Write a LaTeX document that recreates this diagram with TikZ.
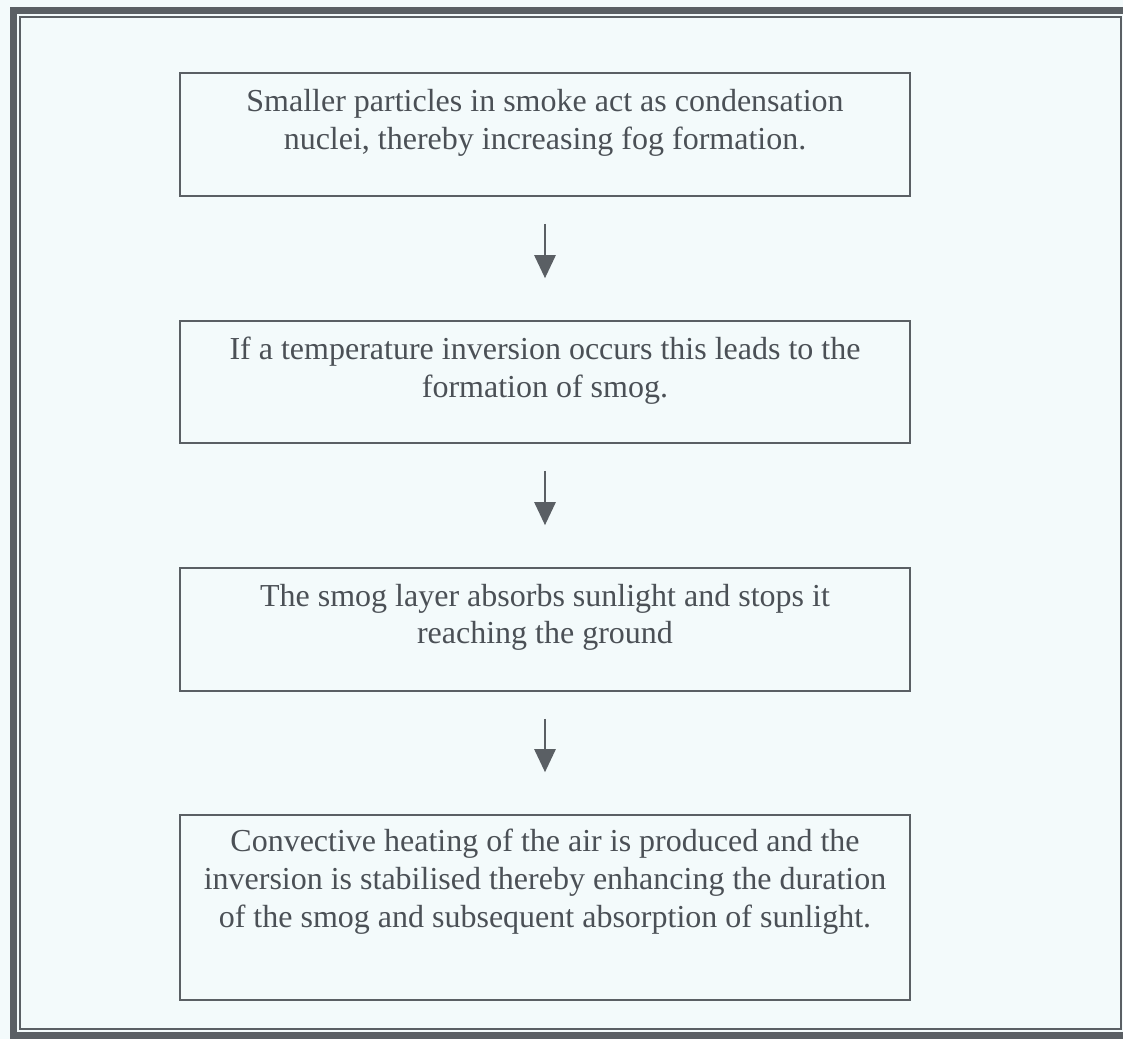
\documentclass[tikz,border=0pt]{standalone}
\usepackage{fontspec}
\setmainfont{Liberation Serif}
\usetikzlibrary{arrows.meta,positioning}
\definecolor{inkgray}{HTML}{4B5056}
\definecolor{linegray}{HTML}{5A5F64}
\definecolor{paper}{HTML}{F3FAFB}
\tikzset{
  stepbox/.style={draw=linegray, line width=1.6pt, minimum width=730pt, inner sep=0pt},
  steptext/.style={text=inkgray, align=center, inner sep=0pt, font=\fontsize{32}{38}\selectfont},
  flowarrow/.style={draw=linegray, line width=2.6pt, -{Triangle[width=21pt,length=23pt]}, shorten <=27pt, shorten >=42pt}
}

\begin{document}
\begin{tikzpicture}[x=1pt,y=-1pt]
\fill[paper] (0,0) rectangle (1123,1039);
\clip (0,0) rectangle (1123,1039);
\draw[linegray, line width=7pt] (13,10) rectangle (1130,1035); % outer frame
\draw[linegray, line width=2pt] (20,17) rectangle (1121,1029); % inner frame
% the four steps
\node[stepbox, minimum height=123pt] (b1) at (545,134.5) {};
\node[stepbox, minimum height=122pt] (b2) at (545,382) {};
\node[stepbox, minimum height=123pt] (b3) at (545,629.5) {};
\node[stepbox, minimum height=185pt] (b4) at (545,907.5) {};
\node[steptext, below=17pt of b1.north] (t1) {Smaller particles in smoke act as condensation\\nuclei, thereby increasing fog formation.};
\node[steptext, below=17pt of b2.north] (t2) {If a temperature inversion occurs this leads to the\\formation of smog.};
\node[steptext, below=17pt of b3.north, font=\fontsize{32}{37}\selectfont] (t3) {The smog layer absorbs sunlight and stops it\\reaching the ground};
\node[steptext, below=15pt of b4.north] (t4) {Convective heating of the air is produced and the\\inversion is stabilised thereby enhancing the duration\\of the smog and subsequent absorption of sunlight.};
\foreach \a/\b in {b1/b2,b2/b3,b3/b4} % edit here for the arrows
\draw[flowarrow] (\a) -- (\b);
\end{tikzpicture}
\end{document}
